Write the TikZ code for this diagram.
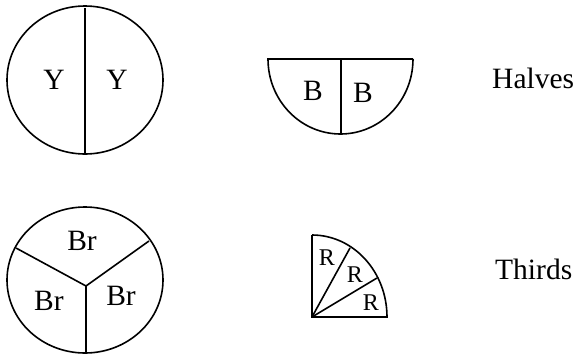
\documentclass[tikz,border=0pt]{standalone}
\usepackage{fontspec}
\setmainfont{Liberation Serif}

\begin{document}
\begin{tikzpicture}[x=1pt, y=-1pt,
part/.style={line width=1.6pt},
lbl/.style={anchor=base, inner sep=0pt, font=\fontsize{29.5}{32}\selectfont},
smalllbl/.style={anchor=base, inner sep=0pt, font=\fontsize{24}{28}\selectfont},
]
\useasboundingbox (0,0) rectangle (576,354);

%Coordinates
\coordinate (ycentre) at (85,80);
\coordinate (ytop) at (85,8);
\coordinate (ybottom) at (85,154);
\coordinate (bleft) at (268,59);
\coordinate (bright) at (413,59);
\coordinate (bmid) at (341,59);
\coordinate (bbottom) at (341,134);
\coordinate (brcentre) at (85,280);
\coordinate (hub) at (86,286);
\coordinate (brleft) at (16,248);
\coordinate (brright) at (149,241);
\coordinate (brbottom) at (86,353);
\coordinate (corner) at (312,317);
\coordinate (rtop) at (312,235);
\coordinate (rright) at (387,317);
\coordinate (rone) at (350,248);
\coordinate (rtwo) at (377,278);

%Shapes
\draw[part] (ycentre) ellipse [x radius=78pt, y radius=74pt];
\draw[part] (ytop) -- (ybottom);

\draw[part] (bright) -- (bleft) arc[start angle=180, end angle=360, x radius=72.5pt, y radius=75pt];
\draw[part] (bmid) -- (bbottom);

\draw[part] (brcentre) ellipse [x radius=78pt, y radius=73pt];
\draw[part] (brleft) -- (hub) -- (brright);
\draw[part] (hub) -- (brbottom);

\draw[part] (rtop) -- (corner) -- (rright) arc[start angle=0, end angle=90, x radius=75pt, y radius=82pt];
\draw[part] (corner) -- (rone);
\draw[part] (corner) -- (rtwo);

%Labels
\node[lbl] (y1) at (54,89) {Y};
\node[lbl] (y2) at (117,89) {Y};
\node[lbl] (b1) at (313,100) {B};
\node[lbl] (b2) at (363,102) {B};
\node[lbl, anchor=base west] (halves) at (492,88) {Halves};
\node[lbl] (br1) at (82,250) {Br};
\node[lbl] (br2) at (49,310) {Br};
\node[lbl] (br3) at (121,305) {Br};
\node[smalllbl] (r1) at (327,265) {R};
\node[smalllbl] (r2) at (355,282) {R};
\node[smalllbl] (r3) at (371,310) {R};
\node[lbl, anchor=base west] (thirds) at (495,279) {Thirds};

\end{tikzpicture}
\end{document}
